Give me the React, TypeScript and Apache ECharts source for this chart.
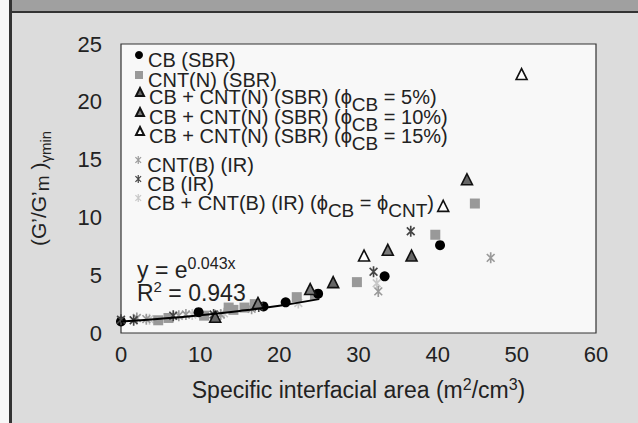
import React, { useEffect, useRef } from 'react';
import * as echarts from 'echarts';

// ---------- data ----------
const xTicks = { min: 0, max: 60, interval: 10 };
const yTicks = { min: 0, max: 25, interval: 5 };

const N1 = 'CB (SBR)';
const N2 = 'CNT(N) (SBR)';
const N3 = 'CB + CNT(N) (SBR) (CB5)';
const N4 = 'CB + CNT(N) (SBR) (CB10)';
const N5 = 'CB + CNT(N) (SBR) (CB15)';
const N6 = 'CNT(B) (IR)';
const N7 = 'CB (IR)';
const N8 = 'CB + CNT(B) (IR)';

const cbSBR: [number, number][] = [[0, 1.0], [9.8, 1.8], [18.0, 2.3], [20.8, 2.65], [24.9, 3.4], [33.3, 4.9], [40.3, 7.6]];
const cntNSBR: [number, number][] = [[4.7, 1.1], [6.0, 1.3], [10.5, 1.5], [13.6, 2.2], [14.2, 2.0], [15.6, 2.2], [16.9, 2.5], [22.2, 3.1], [24.5, 3.3], [29.8, 4.4], [39.7, 8.5], [44.7, 11.2]];
const hyb5: [number, number][] = [[11.9, 1.4], [26.8, 4.4], [36.7, 6.7], [43.7, 13.3]];
const hyb10: [number, number][] = [[17.3, 2.6], [23.9, 3.8], [33.7, 7.2]];
const hyb15: [number, number][] = [[30.7, 6.7], [40.7, 11.0], [50.6, 22.4]];
const cntBIR: [number, number][] = [[2.0, 1.3], [3.2, 1.2], [7.3, 1.5], [8.2, 1.6], [12.6, 1.6], [16.5, 2.1], [32.5, 3.6], [46.7, 6.5]];
const cbIR: [number, number][] = [[0, 1.15], [1.6, 1.1], [6.6, 1.5], [11.7, 1.6], [17.4, 2.3], [31.9, 5.3], [36.6, 8.8]];
const hybIR: [number, number][] = [[3.6, 1.2], [9.0, 1.6], [13.0, 1.7], [22.4, 2.6], [32.3, 4.3]];

// exponential fit shown on the chart: y = e^(0.043x), R^2 = 0.943
const fitK = 0.043;
const fitX = [0, 5, 10, 15, 20, 25];

// ---------- styling ----------
const FONT = "'Liberation Sans', Arial, Helvetica, sans-serif";
const TXT = '#222';
const STAR =
  'path://M-1.5,-10L1.5,-10L1.5,10L-1.5,10Z' +
  'M-8.13,-6.01L-6.01,-8.13L8.13,6.01L6.01,8.13Z' +
  'M-6.01,8.13L-8.13,6.01L6.01,-8.13L8.13,-6.01Z';

const legendLabel: Record<string, string> = {
  [N1]: 'CB (SBR)',
  [N2]: 'CNT(N) (SBR)',
  [N3]: 'CB + CNT(N) (SBR) (ϕ{s|CB} = 5%)',
  [N4]: 'CB + CNT(N) (SBR) (ϕ{s|CB} = 10%)',
  [N5]: 'CB + CNT(N) (SBR) (ϕ{s|CB} = 15%)',
  [N6]: 'CNT(B) (IR)',
  [N7]: 'CB (IR)',
  [N8]: 'CB + CNT(B) (IR) (ϕ{s|CB} = ϕ{s|CNT})',
};
const legendTops: [string, number][] = [
  [N1, 50], [N2, 70], [N3, 87], [N4, 107], [N5, 126], [N6, 155], [N7, 174], [N8, 193],
];

export default function App() {
  const ref = useRef<HTMLDivElement>(null);
  useEffect(() => {
    const chart = echarts.init(ref.current!, null, { renderer: 'svg' });
    const tri = (name: string, data: [number, number][], fill: string) => ({
      name, type: 'scatter', data, symbol: 'triangle', symbolSize: 11,
      itemStyle: { color: fill, borderColor: '#111', borderWidth: 1.6, opacity: 1 },
    });
    const star = (name: string, data: [number, number][], c: string) => ({
      name, type: 'scatter', data, symbol: STAR, symbolSize: 11, symbolKeepAspect: true,
      itemStyle: { color: c, opacity: 1 },
    });
    const option: any = {
      animation: false,
      backgroundColor: '#dcdcdc',
      textStyle: { fontFamily: FONT },
      graphic: [
        { type: 'rect', shape: { x: 12, y: 0, width: 626, height: 11 }, style: { fill: '#a0a0a0' }, silent: true },
        { type: 'rect', shape: { x: 9, y: 11, width: 629, height: 2 }, style: { fill: '#333' }, silent: true },
        { type: 'rect', shape: { x: 0, y: 0, width: 9, height: 423 }, style: { fill: '#f7f7f7' }, silent: true },
        { type: 'rect', shape: { x: 9, y: 0, width: 3, height: 423 }, style: { fill: '#333' }, silent: true },
        {
          type: 'text', x: 137, y: 270, z: 50,
          style: {
            text: 'y = e{s|0.043x}', fontSize: 23, fontFamily: FONT, fill: TXT, verticalAlign: 'middle',
            rich: { s: { fontSize: 16, fontFamily: FONT, fill: TXT, padding: [0, 0, 14, 0] } },
          },
        },
        {
          type: 'text', x: 137, y: 293, z: 50,
          style: {
            text: 'R{s|2} = 0.943', fontSize: 23, fontFamily: FONT, fill: TXT, verticalAlign: 'middle',
            rich: { s: { fontSize: 15, fontFamily: FONT, fill: TXT, padding: [0, 0, 14, 0] } },
          },
        },
      ],
      grid: {
        left: 121, right: 42, top: 44, bottom: 90, show: true,
        backgroundColor: '#f8f8f8', borderColor: '#333', borderWidth: 1.2,
      },
      legend: legendTops.map(([name, top]) => ({
        data: [name], left: 135, top, padding: 0, itemWidth: 8, itemHeight: 8, selectedMode: false,
        formatter: (n: string) => legendLabel[n],
        textStyle: {
          fontSize: 20, color: TXT, fontFamily: FONT, padding: [10, 0, 0, 0],
          rich: { s: { fontSize: 19, color: TXT, fontFamily: FONT, padding: [14, 0, 0, 0] } },
        },
      })),
      xAxis: {
        type: 'value', ...xTicks,
        axisLine: { show: false }, axisTick: { show: false }, splitLine: { show: false },
        axisLabel: { fontSize: 22, color: TXT, fontFamily: FONT, margin: 10 },
        name: 'Specific interfacial area (m{p|2}/cm{p|3})',
        nameLocation: 'middle', nameGap: 43,
        nameTextStyle: {
          fontSize: 23, color: TXT, fontFamily: FONT,
          rich: { p: { fontSize: 16, color: TXT, fontFamily: FONT, padding: [0, 0, 12, 0] } },
        },
      },
      yAxis: {
        type: 'value', ...yTicks,
        axisLine: { show: false }, axisTick: { show: false }, splitLine: { show: false },
        axisLabel: { fontSize: 22, color: TXT, fontFamily: FONT, margin: 19 },
        name: '(G’/G’{m|m} ){g|γmin}',
        nameLocation: 'middle', nameRotate: 90, nameGap: 68,
        nameTextStyle: {
          fontSize: 21, color: TXT, fontFamily: FONT,
          rich: {
            m: { fontSize: 19, color: TXT, fontFamily: FONT, padding: [8, 0, 0, 0] },
            g: { fontSize: 15, color: TXT, fontFamily: FONT, padding: [14, 0, 0, 0] },
          },
        },
      },
      series: [
        star(N8, hybIR, '#c8c8c8'),
        star(N6, cntBIR, '#9a9a9a'),
        { name: N2, type: 'scatter', data: cntNSBR, symbol: 'rect', symbolSize: 10, itemStyle: { color: '#999', opacity: 1 } },
        { name: N1, type: 'scatter', data: cbSBR, symbol: 'circle', symbolSize: 10, itemStyle: { color: '#000', opacity: 1 } },
        star(N7, cbIR, '#444'),
        tri(N3, hyb5, '#666'),
        tri(N4, hyb10, '#7a7a7a'),
        tri(N5, hyb15, '#fff'),
        {
          name: 'fit', type: 'line', data: fitX.map((x) => [x, Math.exp(fitK * x)]),
          smooth: true, symbol: 'none', lineStyle: { color: '#000', width: 2 }, z: 5,
        },
      ],
    };
    chart.setOption(option);
    return () => chart.dispose();
  }, []);
  return <div ref={ref} style={{ position: 'absolute', left: 0, top: 0, width: 638, height: 423 }} />;
}
